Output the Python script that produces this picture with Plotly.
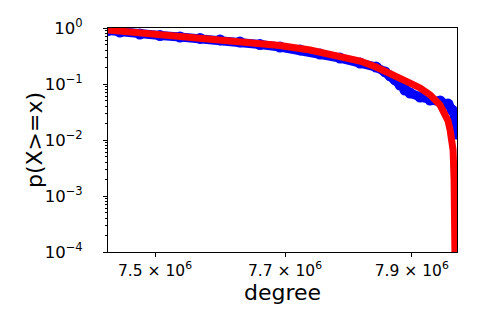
import plotly.graph_objects as go

emp_degree = [7.429e6, 7.447e6, 7.477e6, 7.5076e6, 7.538e6, 7.5686e6, 7.5993e6, 7.630e6,
              7.661e6, 7.692e6, 7.7234e6, 7.7547e6, 7.786e6, 7.8177e6, 7.8431e6, 7.8574e6,
              7.8653e6, 7.8733e6, 7.8813e6, 7.889e6, 7.8973e6, 7.9133e6, 7.9293e6, 7.9454e6,
              7.9582e6, 7.9647e6, 7.9695e6, 7.9711e6]
emp_ccdf = [0.902, 0.848, 0.781, 0.735, 0.691, 0.650, 0.611, 0.562,
            0.507, 0.458, 0.405, 0.343, 0.291, 0.237, 0.201, 0.164,
            0.140, 0.118, 0.096, 0.0781, 0.0691, 0.0586, 0.0518, 0.0497,
            0.0439, 0.0343, 0.0257, 0.0128]

# Fitted curve (red)
fit_degree = [7.429e6, 7.477e6, 7.538e6, 7.6055e6, 7.6456e6, 7.692e6, 7.739e6, 7.786e6,
              7.8177e6, 7.8431e6, 7.8653e6, 7.8813e6, 7.8973e6, 7.9133e6, 7.9293e6, 7.9454e6,
              7.9534e6, 7.9582e6, 7.9615e6, 7.9647e6, 7.9663e6, 7.9679e6, 7.9695e6, 7.9703e6]
fit_ccdf = [0.921, 0.814, 0.720, 0.623, 0.562, 0.487, 0.405, 0.316,
            0.257, 0.201, 0.157, 0.128, 0.104, 0.0849, 0.064, 0.042,
            0.0303, 0.0218, 0.0151, 0.00921, 0.00663, 0.00193, 0.000373, 0.00001]

x_tick_vals = [7.5e6, 7.7e6, 7.9e6]
x_tick_text = ["7.5 × 10<sup>6</sup>", "7.7 × 10<sup>6</sup>", "7.9 × 10<sup>6</sup>"]
y_tick_vals = [1e-4, 1e-3, 1e-2, 1e-1, 1e0]
y_tick_text = ["10<sup>−4</sup>", "10<sup>−3</sup>", "10<sup>−2</sup>", "10<sup>−1</sup>", "10<sup>0</sup>"]
x_title = "degree"
y_title = "p(X>=x)"

fig = go.Figure()
fig.add_trace(go.Scatter(
    x=emp_degree, y=emp_ccdf, mode="lines+markers",
    line=dict(color="#0000ff", width=9),
    marker=dict(color="#0000ff", size=11, symbol="circle"),
    showlegend=False))
fig.add_trace(go.Scatter(
    x=fit_degree, y=fit_ccdf, mode="lines",
    line=dict(color="#ff0000", width=7),
    showlegend=False))

font = dict(family="DejaVu Sans", color="black")
fig.update_layout(
    width=480, height=320,
    margin=dict(l=108, r=23, t=28, b=68, autoexpand=False),
    paper_bgcolor="white", plot_bgcolor="white",
    font=dict(family="DejaVu Sans", color="black", size=15),
    xaxis=dict(
        type="log", range=[6.87093, 6.90160], automargin=False,
        tickvals=x_tick_vals, ticktext=x_tick_text,
        ticks="outside", ticklen=4, tickwidth=1, tickcolor="black",
        showline=True, linecolor="black", linewidth=1, mirror=True,
        showgrid=False, zeroline=False,
        tickfont=dict(size=15.5, **font),
        title=dict(text=x_title, font=dict(size=22, **font), standoff=1),
    ),
    yaxis=dict(
        type="log", range=[-4, 0], automargin=False,
        tickvals=y_tick_vals, ticktext=y_tick_text,
        ticks="outside", ticklen=4, tickwidth=1, tickcolor="black",
        minor=dict(ticks="outside", ticklen=2, tickcolor="black", dtick="D1", showgrid=False),
        showline=True, linecolor="black", linewidth=1, mirror=True,
        showgrid=False, zeroline=False,
        ticklabelstandoff=17,
        tickfont=dict(size=16.5, **font),
    ),
    annotations=[dict(
        text=y_title, textangle=-90, showarrow=False,
        xref="paper", yref="paper", x=-0.212, y=0.5,
        xanchor="center", yanchor="middle",
        font=dict(size=22, **font),
    )],
)

fig.write_html("out.html", config={"displayModeBar": False},
               post_script="document.body.style.margin='0';document.body.style.overflow='hidden';")
